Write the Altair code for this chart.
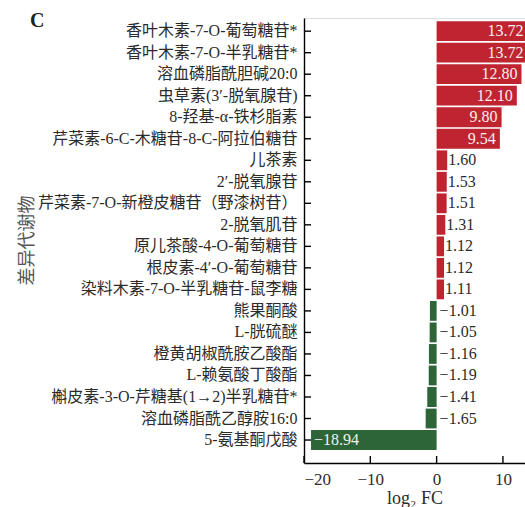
import altair as alt
import pandas as pd

# Differential metabolites and their log2 fold changes
names = [
    "香叶木素-7-O-葡萄糖苷*",
    "香叶木素-7-O-半乳糖苷*",
    "溶血磷脂酰胆碱20:0",
    "虫草素(3′-脱氧腺苷)",
    "8-羟基-α-铁杉脂素",
    "芹菜素-6-C-木糖苷-8-C-阿拉伯糖苷",
    "儿茶素",
    "2′-脱氧腺苷",
    "芹菜素-7-O-新橙皮糖苷（野漆树苷）",
    "2-脱氧肌苷",
    "原儿茶酸-4-O-葡萄糖苷",
    "根皮素-4′-O-葡萄糖苷",
    "染料木素-7-O-半乳糖苷-鼠李糖",
    "熊果酮酸",
    "L-胱硫醚",
    "橙黄胡椒酰胺乙酸酯",
    "L-赖氨酸丁酸酯",
    "槲皮素-3-O-芹糖基(1→2)半乳糖苷*",
    "溶血磷脂酰乙醇胺16:0",
    "5-氨基酮戊酸",
]
log2fc = [13.72, 13.72, 12.80, 12.10, 9.80, 9.54, 1.60, 1.53, 1.51, 1.31,
          1.12, 1.12, 1.11, -1.01, -1.05, -1.16, -1.19, -1.41, -1.65, -18.94]
x_ticks = [-20, -10, 0, 10]

df = pd.DataFrame({"name": names, "value": log2fc})
df["dir"] = ["up" if v > 0 else "down" for v in log2fc]
df["zero"] = 0.0
ticks_df = pd.DataFrame({"t": x_ticks})

FONT = "Liberation Serif, Noto Sans CJK SC"
INK = "#2b2b2b"
PLOT_W, PLOT_H = 221, 445

x_scale = alt.Scale(domain=[-20, 13.33], nice=False, zero=False)
y_scale = alt.Scale(domain=names, paddingInner=0.08, paddingOuter=0.38, align=0.2)

x_axis = alt.Axis(
    values=x_ticks, format="d", ticks=False, grid=False,
    domainColor="black", domainWidth=1.4,
    labelFont=FONT, labelFontSize=17, labelColor=INK, labelPadding=8,
    title="log₂ FC", titleFont=FONT, titleFontSize=18, titleFontWeight="normal",
    titleColor=INK, titlePadding=2,
)
y_axis = alt.Axis(
    ticks=False, grid=False, domainColor="black", domainWidth=1.4,
    labelFont=FONT, labelFontSize=16, labelColor=INK, labelPadding=7, labelLimit=400,
    title="差异代谢物", titleFont=FONT, titleFontSize=18, titleFontWeight="normal",
    titleColor="#555555", titleAngle=270, titleX=-277, titleY=222,
    titleAlign="center", titleBaseline="middle",
)

base = alt.Chart(df)

bars = base.mark_bar(clip=True).encode(
    x=alt.X("value:Q", scale=x_scale, axis=x_axis),
    y=alt.Y("name:N", scale=y_scale, axis=y_axis, sort=names),
    color=alt.Color("dir:N", scale=alt.Scale(domain=["up", "down"],
                                             range=["#BE2530", "#2D6438"]), legend=None),
)

txt = dict(font=FONT, fontSize=16, baseline="middle")

# large increases: white value inside the bar end
lab_up_in = base.transform_filter("datum.value >= 5").mark_text(
    align="right", dx=-4, color="#fbeeee", **txt
).encode(x="value:Q", y=alt.Y("name:N", sort=names), text=alt.Text("value:Q", format=".2f"))

# small increases: value just past the bar end
lab_up_out = base.transform_filter("datum.value > 0 && datum.value < 5").mark_text(
    align="left", dx=1, color=INK, **txt
).encode(x="value:Q", y=alt.Y("name:N", sort=names), text=alt.Text("value:Q", format=".2f"))

# small decreases: value to the right of zero
lab_dn_out = base.transform_filter("datum.value < 0 && datum.value > -5").mark_text(
    align="left", dx=3, color=INK, **txt
).encode(x="zero:Q", y=alt.Y("name:N", sort=names), text=alt.Text("value:Q", format=".2f"))

# large decrease: white value inside the bar start
lab_dn_in = base.transform_filter("datum.value <= -5").mark_text(
    align="left", dx=3, color="#eef5ee", **txt
).encode(x="value:Q", y=alt.Y("name:N", sort=names), text=alt.Text("value:Q", format=".2f"))

# inward-pointing tick marks
y_ticks = base.mark_rule(color="black", strokeWidth=1.4).encode(
    x=alt.value(0), x2=alt.value(7), y=alt.Y("name:N", sort=names)
)
x_tick_marks = alt.Chart(ticks_df).mark_rule(color="black", strokeWidth=1.4).encode(
    x="t:Q", y=alt.value(PLOT_H - 7), y2=alt.value(PLOT_H)
)

chart = alt.layer(
    bars, lab_up_in, lab_up_out, lab_dn_out, lab_dn_in, y_ticks, x_tick_marks
).properties(
    width=PLOT_W,
    height=PLOT_H,
    autosize=alt.AutoSizeParams(type="none"),
    padding={"left": 304, "top": 18, "right": 0, "bottom": 44},
    title=alt.TitleParams(
        text="C", anchor="start", frame="group", font="Liberation Serif", fontSize=20,
        fontWeight="bold", color="#222222", dx=-274, dy=17,
    ),
).configure_view(stroke=None).configure(background="white")

chart.save("out.html", embed_options={"renderer": "svg", "actions": False})
